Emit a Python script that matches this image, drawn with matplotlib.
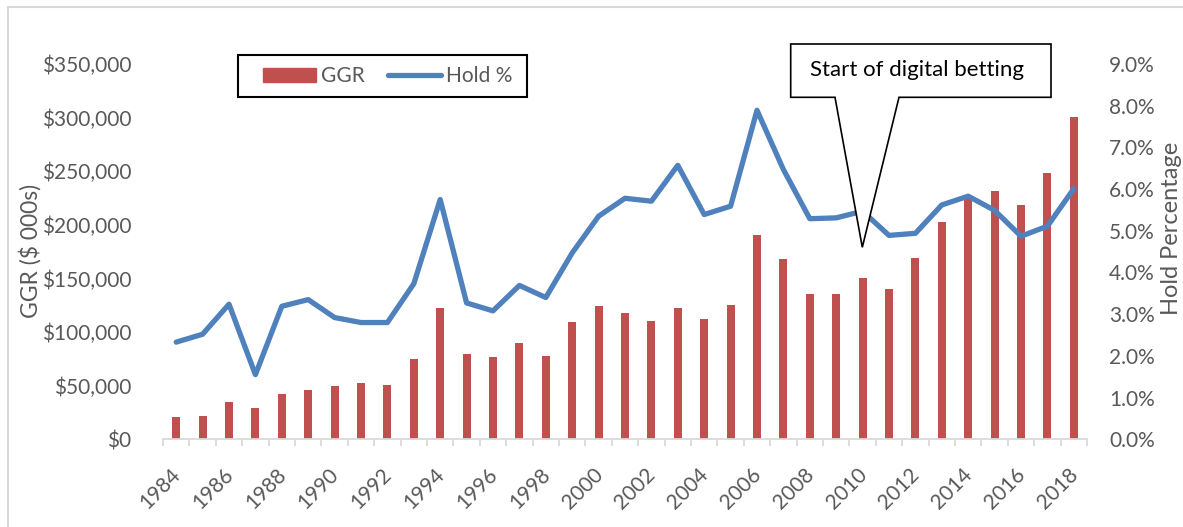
import matplotlib
matplotlib.use("Agg")
import matplotlib.pyplot as plt
from matplotlib.patches import Polygon, Rectangle
from matplotlib.lines import Line2D
from matplotlib.ticker import FuncFormatter, FixedLocator
from matplotlib.transforms import ScaledTranslation

plt.rcParams['font.family'] = ['Lato', 'DejaVu Sans']

years = list(range(1984, 2019))
ggr = [20800, 21500, 35200, 29600, 42300, 46300, 49400, 52200, 51000, 75300,
       122500, 79600, 76800, 89600, 77400, 109400, 124100, 117800, 110100, 122200,
       112000, 125300, 190900, 168000, 135900, 135900, 150500, 140000, 169200, 202500,
       225000, 231100, 218700, 248300, 300500]
hold = [2.33, 2.52, 3.24, 1.55, 3.19, 3.35, 2.92, 2.80, 2.80, 3.73,
        5.75, 3.27, 3.08, 3.69, 3.40, 4.47, 5.35, 5.78, 5.71, 6.57,
        5.39, 5.59, 7.89, 6.47, 5.29, 5.31, 5.47, 4.89, 4.94, 5.62,
        5.83, 5.49, 4.87, 5.11, 6.01]
hold_frac = [h / 100 for h in hold]

GRAY = '#595959'
BAR = '#c0504d'
LINE = '#4f81bd'
FS = 15

W, H = 1183, 527
fig = plt.figure(figsize=(W / 100, H / 100), dpi=100)
ax = fig.add_axes([163 / W, (H - 439.3) / H, 924 / W, 375.3 / H])
ax2 = ax.twinx()

x = list(range(len(years)))
ax.bar(x, ggr, width=0.31, color=BAR, zorder=2)
ax2.plot(x, hold_frac, color=LINE, lw=3.8, solid_joinstyle='round',
         solid_capstyle='round', zorder=3)

ax.set_xlim(-0.5, len(years) - 0.5)
ax.set_ylim(0, 350000)
ax2.set_ylim(0, 0.09)
ax.set_yticks(range(0, 350001, 50000))
ax2.set_yticks([i / 100 for i in range(10)])
ax.yaxis.set_major_formatter(FuncFormatter(lambda v, p: f"${int(v):,}"))
ax2.yaxis.set_major_formatter(FuncFormatter(lambda v, p: f"{v * 100:.1f}%"))

for a in (ax, ax2):
    for s in a.spines.values():
        s.set_visible(False)
ax.spines['bottom'].set_visible(True)
ax.spines['bottom'].set_color('#d9d9d9')
ax.spines['bottom'].set_linewidth(1.3)

ax.tick_params(axis='y', length=0, labelsize=FS, labelcolor=GRAY, pad=23)
ax2.tick_params(axis='y', length=0, labelsize=FS, labelcolor=GRAY, pad=16)

# x ticks: labels at every other category centre, tick marks at boundaries
ax.set_xticks(x[::2])
ax.set_xticklabels([str(y) for y in years[::2]], rotation=45, ha='right',
                   va='top', rotation_mode='anchor')
ax.tick_params(axis='x', which='major', length=0, labelsize=FS,
               labelcolor=GRAY, pad=18)
off = ScaledTranslation(-6 / 100, 0, fig.dpi_scale_trans)
for lbl in ax.get_xticklabels():
    lbl.set_transform(lbl.get_transform() + off)
ax.xaxis.set_minor_locator(FixedLocator([i - 0.5 for i in range(len(years) + 1)]))
ax.tick_params(axis='x', which='minor', length=5, color='#d9d9d9', width=1.3)

ax.set_ylabel("GGR ($ 000s)", fontsize=16.5, color=GRAY)
ax.yaxis.set_label_coords((42 - 163) / 924, (439.3 - 251) / 375.3)
ax2.set_ylabel("Hold Percentage", fontsize=17, color=GRAY)
ax2.yaxis.set_label_coords((1161 - 163) / 924, (439.3 - 228) / 375.3)

# legend (frameless legend + drawn frame)
handles = [Rectangle((0, 0), 1, 1, color=BAR),
           Line2D([0], [0], color=LINE, lw=3.8, solid_capstyle='round')]
leg = fig.legend(handles, ["GGR", "Hold %"], ncol=2, loc='center left',
                 bbox_to_anchor=(263 / W, 1 - 76 / H), frameon=False,
                 fontsize=FS, handlelength=2.55, handleheight=0.65,
                 handletextpad=0.25, columnspacing=1.1,
                 borderpad=0, borderaxespad=0, labelcolor=GRAY)
fig.patches.append(Rectangle((238 / W, 1 - 97 / H), (527 - 238) / W, 42 / H,
                             transform=fig.transFigure, fill=False,
                             edgecolor='black', lw=1.5, zorder=5))

# callout
def fx(px):
    return (px - 163) / 924

def fy(py):
    return (439.3 - py) / 375.3

pts = [(fx(790.7), fy(44)), (fx(1051), fy(44)), (fx(1051), fy(97.3)),
       (fx(899), fy(97.3)), (fx(862.3), fy(247.3)), (fx(835), fy(97.3)),
       (fx(790.7), fy(97.3))]
poly = Polygon(pts, closed=True, facecolor='white', edgecolor='black', lw=1.2,
               transform=ax2.transAxes, clip_on=False, zorder=10)
ax2.add_patch(poly)
ax2.text(fx(916.7), fy(70), "Start of digital betting", transform=ax2.transAxes,
         ha='center', va='center', fontsize=16, color='black', zorder=11)

# chart border (left and top visible)
fig.patches.append(Rectangle((8 / W, -0.1), 1.2, 1.1 - 7 / H,
                             transform=fig.transFigure, fill=False,
                             edgecolor='#d9d9d9', lw=1.5))

fig.savefig("out.png", dpi=100)
